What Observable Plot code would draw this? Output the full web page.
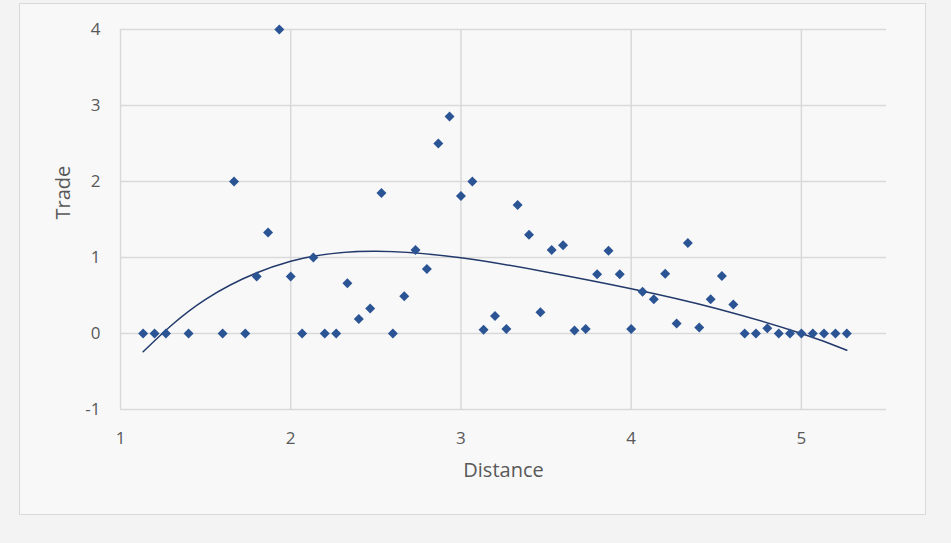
<!DOCTYPE html>
<html>
<head>
<meta charset="utf-8">
<script src="https://cdn.jsdelivr.net/npm/d3@7"></script>
<script src="https://cdn.jsdelivr.net/npm/@observablehq/plot@0.6"></script>
<style>
  html, body { margin: 0; padding: 0; background: #f3f3f3; width: 951px; height: 543px; overflow: hidden; }
  #frame { position: absolute; left: 19px; top: 3px; width: 905px; height: 510px; border: 1px solid #d9d9d9; background: #f8f8f8; }
  #chart { position: absolute; left: 0; top: 0; }
</style>
</head>
<body>
<div id="frame"></div>
<div id="chart"></div>
<script>
const distance = [1.133,1.2,1.267,1.4,1.6,1.667,1.733,1.8,1.867,1.933,2.0,2.067,2.133,2.2,2.267,2.333,2.4,2.467,2.533,2.6,
  2.667,2.733,2.8,2.867,2.933,3.0,3.067,3.133,3.2,3.267,3.333,3.4,3.467,3.533,3.6,3.667,3.733,3.8,3.867,3.933,
  4.0,4.067,4.133,4.2,4.267,4.333,4.4,4.467,4.533,4.6,4.667,4.733,4.8,4.867,4.933,5.0,5.067,5.133,5.2,5.267];
const trade = [0,0,0,0,0,2.0,0,0.75,1.33,4.0,0.75,0,1.0,0,0,0.66,0.19,0.33,1.85,0,
  0.49,1.1,0.85,2.5,2.855,1.81,2.0,0.05,0.23,0.06,1.69,1.3,0.28,1.1,1.16,0.04,0.06,0.78,1.09,0.78,
  0.06,0.55,0.45,0.785,0.13,1.19,0.08,0.45,0.755,0.38,0,0,0.07,0,0,0,0,0,0,0];
const trendX = [1.133,1.5,2.0,2.5,3.0,3.5,4.0,4.5,5.0,5.267];
const trendY = [-0.24,0.45,0.95,1.083,0.996,0.81,0.59,0.33,0.0,-0.22];
const xTicks = [1,2,3,4,5];
const yTicks = [-1,0,1,2,3,4];

const points = distance.map((d, i) => ({distance: d, trade: trade[i]}));
const trend = trendX.map((d, i) => ({distance: d, trade: trendY[i]}));

const grid = "#d9d9d9";
const font = "'Open Sans', 'Noto Sans', sans-serif";

const chart = Plot.plot({
  width: 951,
  height: 543,
  marginLeft: 120,
  marginRight: 65,
  marginTop: 29,
  marginBottom: 134,
  style: {background: "transparent", fontFamily: font, color: "#595959"},
  x: {domain: [1, 5.5], axis: null},
  y: {domain: [-1, 4], axis: null},
  marks: [
    Plot.ruleY(yTicks, {stroke: grid, strokeWidth: 1.5, x1: 1, x2: 5.5}),
    Plot.ruleX(xTicks, {stroke: grid, strokeWidth: 1.5, y1: -1, y2: 4}),
    Plot.text(yTicks, {x: 1, y: d => d, text: d => String(d), textAnchor: "end", dx: -20, fontSize: 17, fill: "#595959"}),
    Plot.text(xTicks, {x: d => d, y: -1, text: d => String(d), dy: 29, fontSize: 17, fill: "#595959"}),
    Plot.text(["Distance"], {frameAnchor: "bottom", dy: 67, fontSize: 20, fill: "#595959"}),
    Plot.text(["Trade"], {frameAnchor: "left", dx: -57, rotate: -90, fontSize: 20, fill: "#595959"}),
    Plot.line(trend, {x: "distance", y: "trade", curve: "natural", stroke: "#22396b", strokeWidth: 1.5}),
    Plot.dot(points, {x: "distance", y: "trade", symbol: "diamond2", r: 4.5, fill: "#2b5494", stroke: "none"})
  ]
});
document.getElementById("chart").appendChild(chart);
</script>
</body>
</html>
